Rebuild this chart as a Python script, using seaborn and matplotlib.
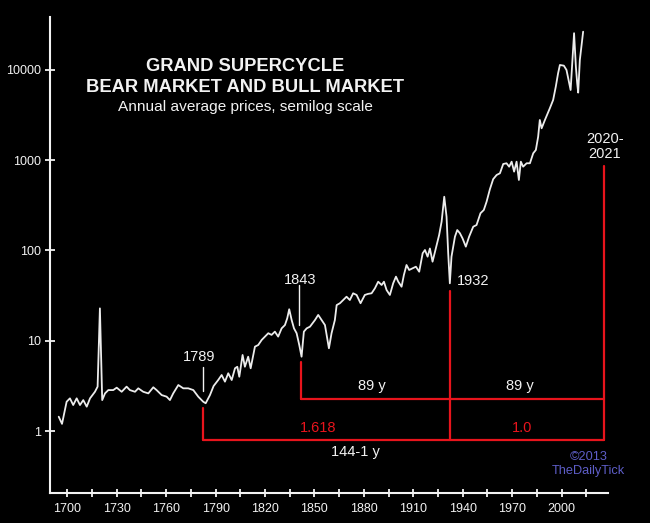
import pandas as pd
import matplotlib.pyplot as plt
import matplotlib.ticker as mticker
import seaborn as sns

# Colours
BG = '#000000'
CURVE = '#ececec'
TEXT = '#f2f2f2'
RED = '#e8141c'
CREDIT = '#5e5ec8'

sns.set_style('dark')
plt.rcParams.update({
    'axes.facecolor': BG,
    'figure.facecolor': BG,
    'text.color': TEXT,
    'xtick.color': TEXT,
    'ytick.color': TEXT,
    'xtick.bottom': True,
    'ytick.left': True,
})
plt.rcParams['font.family'] = ['Liberation Sans', 'DejaVu Sans']

# Annual average prices
years = [1694.8, 1696.8, 1699.6, 1701.6, 1703.6, 1705.7, 1707.7, 1709.7, 1711.8, 1713.8,
         1716.8, 1718.4, 1719.8, 1721.2, 1722.9, 1724.9, 1727.9, 1730.0, 1733.0, 1736.0,
         1738.0, 1741.1, 1743.1, 1746.1, 1749.2, 1752.2, 1754.2, 1757.3, 1760.3, 1762.3,
         1764.3, 1767.4, 1770.4, 1773.4, 1776.5, 1779.5, 1782.5, 1784.0, 1786.6, 1788.8,
         1791.6, 1793.7, 1795.7, 1797.7, 1799.8, 1801.8, 1803.2, 1804.4, 1806.4, 1807.8,
         1809.8, 1811.3, 1813.9, 1815.9, 1818.0, 1820.0, 1822.0, 1824.0, 1826.0, 1828.0,
         1830.1, 1832.1, 1833.5, 1834.7, 1836.2, 1837.6, 1839.2, 1840.8, 1842.2, 1843.6,
         1845.3, 1847.3, 1850.3, 1852.3, 1854.4, 1856.4, 1858.8, 1860.4, 1862.4, 1863.5,
         1865.5, 1867.5, 1869.5, 1871.5, 1873.5, 1875.6, 1878.0, 1880.6, 1882.6, 1884.7,
         1886.7, 1888.7, 1890.8, 1892.2, 1893.8, 1895.8, 1897.8, 1899.5, 1900.9, 1902.9,
         1904.3, 1905.9, 1907.5, 1909.6, 1911.6, 1913.6, 1915.7, 1917.1, 1918.7, 1920.1,
         1921.7, 1923.7, 1925.7, 1927.2, 1928.8, 1930.2, 1931.2, 1932.2, 1933.2, 1935.3,
         1936.7, 1938.3, 1939.9, 1941.9, 1943.9, 1946.4, 1948.4, 1950.8, 1952.8, 1954.5,
         1956.5, 1958.5, 1960.6, 1962.6, 1964.6, 1966.6, 1968.2, 1969.7, 1971.2, 1972.7,
         1974.1, 1975.3, 1976.7, 1978.8, 1980.8, 1982.8, 1984.4, 1985.8, 1986.8, 1987.9,
         1989.9, 1992.9, 1994.9, 1996.5, 1997.9, 1999.0, 2001.4, 2003.0, 2005.5, 2006.7,
         2007.6, 2008.7, 2009.5, 2010.1, 2011.1, 2013.1]
prices = [1.44, 1.20, 2.11, 2.30, 1.94, 2.30, 1.94, 2.20, 1.86, 2.30,
          2.72, 3.10, 22.8, 2.20, 2.61, 2.84, 2.84, 3.02, 2.72, 3.10,
          2.84, 2.72, 2.97, 2.72, 2.61, 3.05, 2.84, 2.50, 2.40, 2.20,
          2.61, 3.23, 2.97, 2.97, 2.84, 2.40, 2.11, 2.03, 2.50, 3.15,
          3.67, 4.17, 3.52, 4.36, 3.67, 4.95, 5.15, 3.99, 6.95, 5.15,
          6.65, 4.95, 8.59, 8.96, 10.2, 11.1, 12.1, 11.6, 12.6, 11.1,
          13.7, 14.9, 17.7, 22.3, 16.9, 13.7, 12.1, 8.96, 6.65, 12.6,
          13.7, 14.3, 16.9, 19.3, 16.9, 14.9, 8.24, 12.1, 16.9, 24.8,
          26.0, 28.2, 30.7, 28.2, 33.5, 32.1, 26.0, 32.1, 33.0, 33.5,
          38.0, 45.0, 41.4, 45.0, 36.4, 32.1, 43.2, 51.2, 45.0, 39.6,
          53.4, 68.9, 60.7, 63.4, 66.0, 58.1, 92.9, 101, 85.2, 105,
          75, 105, 148, 208, 393, 236, 92.9, 43.2, 85.2, 142,
          168, 155, 136, 110, 142, 183, 191, 258, 280, 346,
          475, 615, 684, 714, 905, 922, 845, 960, 745, 960,
          602, 960, 845, 922, 922, 1189, 1294, 1816, 2780, 2250,
          2780, 3750, 4630, 6500, 9150, 11300, 11100, 9950, 5970, 13400,
          25400, 10800, 7080, 5580, 12800, 26400]

# Cycle turning points (as drawn) and red bracket levels
turn_years = [1782.5, 1841.6, 1932.3, 2025.8]
turn_tops = [1.80, 5.85, 35.5, 860]
base_level = 0.795
mid_level = 2.26

df = pd.DataFrame({'year': years, 'price': prices})

fig = plt.figure(figsize=(6.5, 5.23), dpi=100)
ax = fig.add_axes([0.0769, 0.0574, 0.8585, 0.9101])

sns.lineplot(data=df, x='year', y='price', ax=ax, color=CURVE, linewidth=1.3,
             estimator=None, sort=False)

ax.set_yscale('log')
ax.set_xlim(1689.5, 2028.2)
ax.set_ylim(0.206, 38400)

# red brackets
ax.plot([turn_years[0], turn_years[3]], [base_level, base_level], color=RED, lw=1.6)
ax.plot([turn_years[1], turn_years[3]], [mid_level, mid_level], color=RED, lw=1.6)
ax.plot([turn_years[0]] * 2, [base_level, turn_tops[0]], color=RED, lw=1.6)
ax.plot([turn_years[1]] * 2, [mid_level, turn_tops[1]], color=RED, lw=1.6)
ax.plot([turn_years[2]] * 2, [base_level, turn_tops[2]], color=RED, lw=1.6)
ax.plot([turn_years[3]] * 2, [base_level, turn_tops[3]], color=RED, lw=1.6)

# white pointers
ax.plot([1782.3, 1782.3], [2.79, 5.15], color=TEXT, lw=1.0)
ax.plot([1840.6, 1840.6], [14.9, 41.4], color=TEXT, lw=1.0)

ann = dict(ha='center', va='center', fontsize=10.5, color=TEXT)
ax.text(1780.0, 6.65, '1789', **ann)
ax.text(1841.2, 47, '1843', **ann)
ax.text(1946.2, 45.8, '1932', **ann)
ax.text(2026.2, 1413, '2020-\n2021', linespacing=1.15, **ann)
ax.text(1884.8, 3.15, '89 y', **ann)
ax.text(1974.6, 3.15, '89 y', **ann)
ax.text(1874.6, 0.59, '144-1 y', **ann)
ax.text(1852.2, 1.08, '1.618', ha='center', va='center', fontsize=10.5, color=RED)
ax.text(1976.3, 1.08, '1.0', ha='center', va='center', fontsize=10.5, color=RED)
ax.text(2016.4, 0.519, '\u00a92013', ha='center', va='center', fontsize=9.2, color=CREDIT)
ax.text(2016.4, 0.363, 'TheDailyTick', ha='center', va='center', fontsize=9.2, color=CREDIT)

# titles
fig.text(0.377, 0.8725, 'GRAND SUPERCYCLE', ha='center', va='center',
         fontsize=13.2, fontweight='bold', color=TEXT)
fig.text(0.377, 0.833, 'BEAR MARKET AND BULL MARKET', ha='center', va='center',
         fontsize=13.2, fontweight='bold', color=TEXT)
fig.text(0.377, 0.7948, 'Annual average prices, semilog scale', ha='center', va='center',
         fontsize=11.1, color=TEXT)

# axes styling
ax.set_xlabel('')
ax.set_ylabel('')
ax.grid(False)
for side in ['top', 'right']:
    ax.spines[side].set_visible(False)
for side in ['left', 'bottom']:
    ax.spines[side].set_visible(True)
    ax.spines[side].set_color(TEXT)
    ax.spines[side].set_linewidth(1.5)

ax.yaxis.set_major_locator(mticker.FixedLocator([1, 10, 100, 1000, 10000]))
ax.yaxis.set_major_formatter(mticker.FixedFormatter(['1', '10', '100', '1000', '10000']))
ax.yaxis.set_minor_locator(mticker.NullLocator())
ax.xaxis.set_major_locator(mticker.FixedLocator(list(range(1700, 2001, 30))))
ax.xaxis.set_minor_locator(mticker.FixedLocator(list(range(1715, 2016, 30))))
ax.tick_params(axis='both', which='both', direction='inout', color=TEXT, width=1.3,
               labelsize=9, labelcolor=TEXT, bottom=True, left=True)
ax.tick_params(axis='y', which='major', length=7.5, pad=3)
ax.tick_params(axis='x', which='both', length=6, pad=4)

fig.savefig('out.png', dpi=100, facecolor=BG)
